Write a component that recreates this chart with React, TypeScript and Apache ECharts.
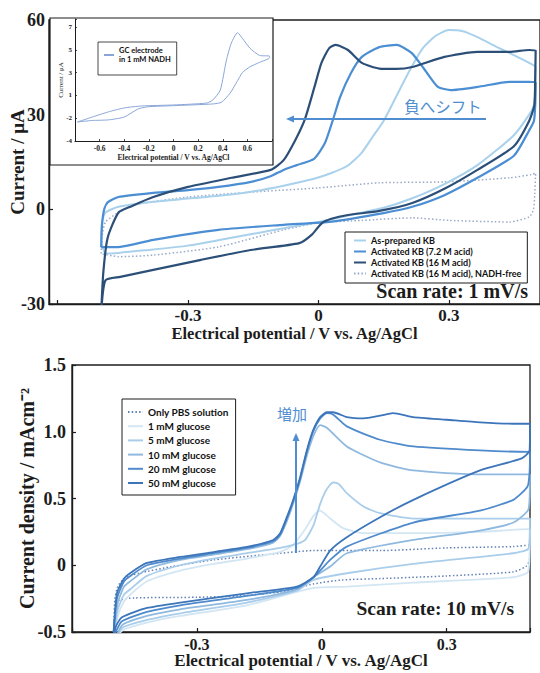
import React, { useEffect, useRef } from 'react';
import * as echarts from 'echarts';

// ---------- Top panel: scan rate 1 mV/s ----------
const TOP_X_TICKS = [-0.3, 0, 0.3];
const TOP_X_LABELS = ['-0.3', '0', '0.3'];
const TOP_Y_TICKS = [-30, 0, 30, 60];
const TOP_Y_LABELS = ['-30', '0', '30', '60'];

const TOP_NAMES = [
  'As-prepared KB',
  'Activated KB (7.2 M acid)',
  'Activated KB (16 M acid)',
  'Activated KB (16 M acid), NADH-free',
];

// [potential (V), current (µA)] – one closed CV loop each
const AS_PREPARED_KB = [
  [-0.5, -10], [-0.498, -4], [-0.49, -1], [-0.46, 0.8], [-0.38, 2.4], [-0.3, 3.4], [-0.23, 4.3],
  [-0.155, 5.6], [-0.08, 7.5], [-0.01, 9.7], [0.03, 11.5], [0.067, 13.8], [0.1, 18], [0.125, 23],
  [0.15, 28], [0.18, 36], [0.21, 44], [0.24, 51], [0.27, 55], [0.3, 56.8], [0.33, 56.5],
  [0.366, 54.6], [0.41, 51.5], [0.44, 49.5], [0.485, 46.4], [0.5, 45],
  [0.499, 38], [0.496, 33], [0.485, 30], [0.45, 23.5], [0.366, 14], [0.29, 8], [0.216, 3.5],
  [0.15, 0.5], [0.05, -2.5], [0, -4], [-0.1, -6.5], [-0.2, -9], [-0.3, -11.5], [-0.4, -13],
  [-0.46, -13.8], [-0.49, -14], [-0.5, -10],
];
const ACTIVATED_7M = [
  [-0.5, -12], [-0.498, -5], [-0.493, 0], [-0.485, 2.2], [-0.46, 3.9], [-0.38, 5.2], [-0.3, 6.1],
  [-0.23, 7.1], [-0.155, 8.7], [-0.11, 10.5], [-0.08, 12.5], [-0.05, 14], [-0.01, 16], [0.015, 21],
  [0.034, 28.6], [0.05, 35.6], [0.075, 43.2], [0.1, 48.3], [0.14, 51.4], [0.18, 52.1], [0.215, 49.5],
  [0.25, 43.2], [0.275, 38.8], [0.305, 37.8], [0.366, 38.8], [0.44, 40.4], [0.485, 40.4], [0.5, 40],
  [0.499, 33], [0.496, 28], [0.485, 25], [0.45, 17], [0.366, 10], [0.29, 4.5], [0.216, 0.8],
  [0.15, -1.2], [0.03, -3.9], [-0.08, -4.9], [-0.23, -6.5], [-0.38, -9.7], [-0.456, -11.9],
  [-0.495, -12], [-0.5, -12],
];
const ACTIVATED_16M = [
  [-0.5, -33], [-0.495, -20], [-0.485, -9], [-0.46, -1], [-0.43, 1], [-0.38, 3.9], [-0.3, 7.1],
  [-0.2, 10], [-0.11, 12.5], [-0.08, 15.6], [-0.053, 22], [-0.031, 28.6], [-0.009, 38.8],
  [0.007, 46.4], [0.025, 51.1], [0.04, 52.1], [0.068, 50.5], [0.1, 46.4], [0.14, 44.6], [0.18, 44.5],
  [0.216, 45.1], [0.29, 48.3], [0.366, 49.9], [0.44, 49.9], [0.485, 50.5], [0.5, 50.3],
  [0.499, 42], [0.497, 33], [0.485, 28], [0.45, 20], [0.366, 12.5], [0.29, 6.5], [0.216, 2],
  [0.14, -0.5], [0.068, -1.8], [0.03, -3], [0.007, -4.5], [-0.015, -8], [-0.044, -10.7],
  [-0.156, -12.9], [-0.27, -16], [-0.38, -19.2], [-0.456, -21.4], [-0.49, -22.5], [-0.5, -33],
];
const NADH_FREE = [
  [-0.5, -14], [-0.497, -8], [-0.49, -4], [-0.46, -1], [-0.42, 1.5], [-0.3, 3.9], [-0.15, 5.5],
  [0, 6.8], [0.14, 8.4], [0.29, 8.7], [0.44, 10], [0.49, 11], [0.5, 11.5],
  [0.498, 5], [0.495, 0], [0.485, -2.4], [0.44, -4], [0.3, -3.5], [0.216, -2.7], [0.1, -3.5],
  [0, -4.3], [-0.08, -6.5], [-0.23, -11.9], [-0.38, -14.5], [-0.46, -15], [-0.5, -14],
];

// ---------- Inset: GC electrode in 1 mM NADH ----------
const INSET_X_TICKS = [-0.6, -0.4, -0.2, 0, 0.2, 0.4, 0.6];
const INSET_X_LABELS = ['-0.6', '-0.4', '-0.2', '0', '0.2', '0.4', '0.6'];
const INSET_Y_TICKS = [-3, -1, 1, 3, 5, 7];
const INSET_Y_LABELS = ['-4', '-2', '1', '3', '5', '7'];
const INSET_NAME = 'GC electrode\nin 1 mM NADH';
const GC_NADH = [
  [-0.78, -1.33], [-0.66, -0.9], [-0.53, -0.45], [-0.4, -0.1], [-0.26, 0.07], [0, 0.16], [0.27, 0.33],
  [0.32, 0.6], [0.38, 1.47], [0.43, 4.1], [0.47, 5.6], [0.52, 6.5], [0.56, 6.0], [0.62, 5.15],
  [0.7, 4.5], [0.78, 4.45],
  [0.78, 4.3], [0.7, 3.9], [0.62, 3.5], [0.56, 3.0], [0.51, 2.1], [0.46, 1.2], [0.39, 0.4],
  [0.32, 0.25], [0, 0.1], [-0.21, 0.0], [-0.29, -0.2], [-0.4, -0.9], [-0.53, -1.15], [-0.66, -1.2],
  [-0.78, -1.33],
];

// ---------- Bottom panel: scan rate 10 mV/s ----------
const BOT_X_TICKS = [-0.3, 0, 0.3];
const BOT_X_LABELS = ['-0.3', '0', '0.3'];
const BOT_Y_TICKS = [-0.5, 0, 0.5, 1.0, 1.5];
const BOT_Y_LABELS = ['-0.5', '0', '0.5', '1.0', '1.5'];
const BOT_NAMES = ['Only PBS solution', '1 mM glucose', '5 mM glucose', '10 mM glucose', '20 mM glucose', '50 mM glucose'];

// [potential (V), current density (mA cm^-2)]
const ONLY_PBS = [
  [-0.5, -0.5], [-0.497, -0.25], [-0.49, -0.16], [-0.475, -0.1], [-0.44, -0.06], [-0.36, -0.01],
  [-0.26, 0.04], [-0.1, 0.09], [-0.02, 0.11], [0.14, 0.11], [0.3, 0.13], [0.46, 0.14], [0.497, 0.15],
  [0.5, 0.1], [0.498, 0.03], [0.49, -0.01], [0.46, -0.05], [0.3, -0.08], [0.14, -0.1], [0.05, -0.11],
  [-0.02, -0.14], [-0.1, -0.2], [-0.2, -0.23], [-0.3, -0.24], [-0.45, -0.245], [-0.49, -0.27], [-0.5, -0.5],
];
const GLUCOSE_1 = [
  [-0.5, -0.6], [-0.49, -0.38], [-0.475, -0.27], [-0.46, -0.22], [-0.42, -0.12], [-0.34, -0.04],
  [-0.26, 0.01], [-0.18, 0.05], [-0.1, 0.1], [-0.07, 0.15], [-0.04, 0.27], [-0.02, 0.37], [-0.005, 0.41],
  [0.02, 0.35], [0.05, 0.28], [0.1, 0.24], [0.22, 0.24], [0.38, 0.25], [0.497, 0.27],
  [0.5, 0.27], [0.499, 0.1], [0.495, -0.05], [0.46, -0.09], [0.22, -0.13], [0.06, -0.16], [-0.02, -0.17],
  [-0.18, -0.3], [-0.34, -0.38], [-0.42, -0.43], [-0.48, -0.49], [-0.5, -0.6],
];
const GLUCOSE_5 = [
  [-0.5, -0.55], [-0.49, -0.33], [-0.475, -0.22], [-0.46, -0.18], [-0.42, -0.08], [-0.34, 0.0],
  [-0.26, 0.05], [-0.18, 0.09], [-0.1, 0.13], [-0.06, 0.16], [-0.04, 0.19], [-0.02, 0.3], [-0.005, 0.45],
  [0.01, 0.56], [0.027, 0.62], [0.04, 0.61], [0.06, 0.54], [0.1, 0.44], [0.14, 0.39], [0.22, 0.35],
  [0.38, 0.35], [0.497, 0.35],
  [0.5, 0.35], [0.499, 0.2], [0.495, 0.12], [0.46, 0.09], [0.22, 0.01], [0.06, -0.06], [-0.02, -0.11],
  [-0.06, -0.19], [-0.18, -0.28], [-0.34, -0.36], [-0.42, -0.41], [-0.48, -0.47], [-0.5, -0.6],
];
const GLUCOSE_10 = [
  [-0.5, -0.5], [-0.49, -0.28], [-0.475, -0.16], [-0.46, -0.12], [-0.42, -0.03], [-0.34, 0.04],
  [-0.26, 0.08], [-0.18, 0.12], [-0.117, 0.17], [-0.1, 0.22], [-0.084, 0.33], [-0.069, 0.46],
  [-0.052, 0.63], [-0.036, 0.82], [-0.02, 0.97], [-0.004, 1.05], [0.012, 1.03], [0.06, 0.89],
  [0.14, 0.77], [0.22, 0.71], [0.38, 0.68], [0.497, 0.68],
  [0.5, 0.68], [0.499, 0.5], [0.495, 0.41], [0.46, 0.32], [0.38, 0.26], [0.22, 0.19], [0.06, 0.09],
  [0.02, -0.01], [-0.02, -0.09], [-0.06, -0.18], [-0.18, -0.26], [-0.34, -0.33], [-0.42, -0.38],
  [-0.48, -0.45], [-0.5, -0.6],
];
const GLUCOSE_20 = [
  [-0.5, -0.5], [-0.492, -0.25], [-0.475, -0.12], [-0.46, -0.08], [-0.42, 0.0], [-0.34, 0.05],
  [-0.26, 0.09], [-0.18, 0.13], [-0.117, 0.18], [-0.1, 0.23], [-0.084, 0.35], [-0.069, 0.48],
  [-0.052, 0.65], [-0.036, 0.85], [-0.021, 1.0], [-0.004, 1.1], [0.012, 1.14], [0.027, 1.13],
  [0.06, 1.04], [0.14, 0.94], [0.22, 0.89], [0.38, 0.86], [0.497, 0.85],
  [0.5, 0.85], [0.499, 0.7], [0.494, 0.59], [0.46, 0.49], [0.38, 0.41], [0.22, 0.32], [0.06, 0.14],
  [0.02, 0.04], [-0.02, -0.09], [-0.06, -0.17], [-0.18, -0.23], [-0.34, -0.3], [-0.42, -0.35],
  [-0.48, -0.42], [-0.495, -0.5], [-0.5, -0.55],
];
const GLUCOSE_50 = [
  [-0.5, -0.5], [-0.492, -0.21], [-0.475, -0.1], [-0.46, -0.058], [-0.42, 0.017], [-0.34, 0.062],
  [-0.26, 0.099], [-0.18, 0.137], [-0.117, 0.189], [-0.1, 0.24], [-0.084, 0.36], [-0.069, 0.487],
  [-0.052, 0.66], [-0.036, 0.86], [-0.021, 1.01], [-0.004, 1.11], [0.012, 1.146], [0.027, 1.146],
  [0.06, 1.11], [0.1, 1.1], [0.14, 1.12], [0.171, 1.14], [0.219, 1.11], [0.3, 1.09], [0.38, 1.07],
  [0.46, 1.06], [0.497, 1.06],
  [0.5, 1.06], [0.499, 0.86], [0.48, 0.8], [0.38, 0.71], [0.22, 0.49], [0.14, 0.36], [0.06, 0.21],
  [0.02, 0.11], [-0.004, -0.01], [-0.02, -0.09], [-0.06, -0.16], [-0.18, -0.21], [-0.34, -0.28],
  [-0.42, -0.32], [-0.48, -0.39], [-0.495, -0.46], [-0.5, -0.55],
];

const SERIF = '"Liberation Serif", "Times New Roman", serif';
const SANS = 'Lato, "Open Sans", sans-serif';
const JP = '"Noto Sans CJK JP", sans-serif';
const INK = '#1c1c1c';
const ARROW = '#4f8dd0';

const pick = (ticks: number[], labels: string[]) => (v: number) => {
  const i = ticks.findIndex((t) => Math.abs(t - v) < 1e-6);
  return i >= 0 ? labels[i] : '';
};

const lineSeries = (
  name: string,
  data: number[][],
  color: string,
  width: number,
  axis: number,
  dotted = false,
  z = 3,
) => ({
  type: 'line',
  name,
  data,
  xAxisIndex: axis,
  yAxisIndex: axis,
  symbol: 'none',
  smooth: 0.2,
  z,
  itemStyle: { color },
  lineStyle: { color, width, type: dotted ? [1.5, 2.2] : 'solid' },
  emphasis: { disabled: true },
});

const axisText = (size: number) => ({
  fontFamily: SERIF,
  fontWeight: 'bold',
  fontSize: size,
  color: INK,
});

export default function App() {
  const ref = useRef<HTMLDivElement>(null);

  useEffect(() => {
    if (!ref.current) return;
    const chart = echarts.init(ref.current, undefined, { renderer: 'svg' });

    const axisLine = { show: true, onZero: false, lineStyle: { color: INK, width: 1.4 } };
    const tick = { show: true, inside: true, length: 4, lineStyle: { color: INK, width: 1.2 } };
    const insetLine = { show: true, onZero: false, lineStyle: { color: INK, width: 1 } };
    const insetTick = { show: true, inside: true, length: 2, lineStyle: { color: INK, width: 0.8 } };
    const gridBase = { containLabel: false, outerBoundsMode: 'none' };

    chart.setOption({
      animation: false,
      backgroundColor: '#fff',
      grid: [
        { ...gridBase, left: 49, top: 20, width: 491, height: 284, show: true, borderColor: INK, borderWidth: 1.3 },
        { ...gridBase, left: 75, top: 19, width: 197, height: 122, show: false, z: 11 },
        { ...gridBase, left: 72, top: 365, width: 458, height: 267, show: true, borderColor: INK, borderWidth: 1.3 },
      ],
      xAxis: [
        {
          gridIndex: 0, type: 'value', min: -0.62, max: 0.51, splitNumber: 4,
          axisLine, axisTick: tick, splitLine: { show: false },
          axisLabel: { ...axisText(17), margin: 3, formatter: pick(TOP_X_TICKS, TOP_X_LABELS) },
          name: 'Electrical potential / V vs. Ag/AgCl', nameLocation: 'middle', nameGap: 21,
          nameMoveOverlap: false,
          nameTextStyle: axisText(16.5),
        },
        {
          gridIndex: 1, type: 'value', min: -0.8, max: 0.8, interval: 0.2, z: 12,
          axisLine: insetLine, axisTick: insetTick, splitLine: { show: false },
          axisLabel: { ...axisText(7.5), margin: 3, formatter: pick(INSET_X_TICKS, INSET_X_LABELS) },
          name: 'Electrical potential / V vs. Ag/AgCl', nameLocation: 'middle', nameGap: 12,
          nameMoveOverlap: false,
          nameTextStyle: axisText(7.5),
        },
        {
          gridIndex: 2, type: 'value', min: -0.6, max: 0.5, interval: 0.3,
          axisLine, axisTick: tick, splitLine: { show: false },
          axisLabel: { ...axisText(16), margin: 4, formatter: pick(BOT_X_TICKS, BOT_X_LABELS) },
          name: 'Electrical potential / V vs. Ag/AgCl', nameLocation: 'middle', nameGap: 20,
          nameMoveOverlap: false,
          nameTextStyle: axisText(17),
        },
      ],
      yAxis: [
        {
          gridIndex: 0, type: 'value', min: -30, max: 60, interval: 30,
          axisLine, axisTick: tick, splitLine: { show: false },
          axisLabel: { ...axisText(18), margin: 4, formatter: pick(TOP_Y_TICKS, TOP_Y_LABELS) },
          name: 'Current / μA', nameLocation: 'middle', nameGap: 22,
          nameMoveOverlap: false,
          nameTextStyle: axisText(19),
        },
        {
          gridIndex: 1, type: 'value', min: -3, max: 7.7, interval: 2, z: 12,
          axisLine: insetLine, axisTick: insetTick, splitLine: { show: false },
          axisLabel: { ...axisText(7), margin: 3, formatter: pick(INSET_Y_TICKS, INSET_Y_LABELS) },
          name: 'Current / μA', nameLocation: 'middle', nameGap: 11,
          nameMoveOverlap: false,
          nameTextStyle: { fontFamily: SERIF, fontSize: 7, color: INK },
        },
        {
          gridIndex: 2, type: 'value', min: -0.5, max: 1.5, interval: 0.5,
          axisLine, axisTick: tick, splitLine: { show: false },
          axisLabel: { ...axisText(18), margin: 6, formatter: pick(BOT_Y_TICKS, BOT_Y_LABELS) },
          name: 'Current density / mAcm⁻²', nameLocation: 'middle', nameGap: 35,
          nameMoveOverlap: false,
          nameTextStyle: axisText(20),
        },
      ],
      legend: [
        {
          data: TOP_NAMES, orient: 'vertical', left: 345, top: 232, z: 20,
          padding: [3, 6, 4, 8], itemGap: 0, itemWidth: 12, itemHeight: 11,
          itemStyle: { opacity: 0 },
          backgroundColor: '#fff', borderColor: INK, borderWidth: 1, selectedMode: false,
          textStyle: { fontFamily: SANS, fontWeight: 'bold', fontSize: 9, lineHeight: 11, color: '#111' },
        },
        {
          data: [INSET_NAME], orient: 'vertical', left: 98, top: 42, z: 20,
          padding: [4, 6, 11, 5], itemWidth: 10, itemHeight: 8,
          itemStyle: { opacity: 0 },
          backgroundColor: '#fff', borderColor: INK, borderWidth: 0.8, selectedMode: false,
          textStyle: { fontFamily: SANS, fontWeight: 'bold', fontSize: 7.5, lineHeight: 9, color: '#111' },
        },
        {
          data: BOT_NAMES, orient: 'vertical', left: 122, top: 399, z: 20,
          padding: [6, 7, 5, 5], itemGap: 0.2, itemWidth: 15, itemHeight: 14,
          itemStyle: { opacity: 0 },
          backgroundColor: '#fff', borderColor: INK, borderWidth: 1, selectedMode: false,
          textStyle: { fontFamily: SANS, fontWeight: 'bold', fontSize: 10, lineHeight: 14, color: '#111' },
        },
      ],
      graphic: [
        {
          type: 'rect', z: 10, silent: true,
          shape: { x: 50, y: 18, width: 223, height: 147 },
          style: { fill: '#fff', stroke: INK, lineWidth: 1.2 },
        },
        {
          type: 'line', z: 5, silent: true,
          shape: { x1: 486, y1: 119, x2: 293, y2: 119 },
          style: { stroke: ARROW, lineWidth: 2 },
        },
        {
          type: 'polygon', z: 5, silent: true,
          shape: { points: [[286, 119], [294, 115.5], [294, 122.5]] },
          style: { fill: ARROW },
        },
        {
          type: 'text', z: 5, silent: true, x: 443, y: 106,
          style: { text: '負へシフト', fill: ARROW, fontFamily: JP, fontSize: 15.5, align: 'center', verticalAlign: 'middle' },
        },
        {
          type: 'text', z: 5, silent: true, x: 528, y: 291,
          style: { text: 'Scan rate: 1 mV/s', fill: INK, fontFamily: SERIF, fontWeight: 'bold', fontSize: 20, align: 'right', verticalAlign: 'middle' },
        },
        {
          type: 'line', z: 5, silent: true,
          shape: { x1: 296, y1: 553, x2: 296, y2: 440 },
          style: { stroke: ARROW, lineWidth: 2 },
        },
        {
          type: 'polygon', z: 5, silent: true,
          shape: { points: [[296, 433], [292.5, 441], [299.5, 441]] },
          style: { fill: ARROW },
        },
        {
          type: 'text', z: 5, silent: true, x: 292, y: 413,
          style: { text: '増加', fill: ARROW, fontFamily: JP, fontSize: 15, align: 'center', verticalAlign: 'middle' },
        },
        {
          type: 'text', z: 5, silent: true, x: 514, y: 608,
          style: { text: 'Scan rate: 10 mV/s', fill: INK, fontFamily: SERIF, fontWeight: 'bold', fontSize: 19.5, align: 'right', verticalAlign: 'middle' },
        },
      ],
      series: [
        lineSeries(TOP_NAMES[3], NADH_FREE, '#98aac8', 1.5, 0, true),
        lineSeries(TOP_NAMES[0], AS_PREPARED_KB, '#a9d1ec', 2, 0),
        lineSeries(TOP_NAMES[1], ACTIVATED_7M, '#4b8ed3', 2.2, 0),
        lineSeries(TOP_NAMES[2], ACTIVATED_16M, '#2c4f78', 2.2, 0),
        lineSeries(INSET_NAME, GC_NADH, '#8aa6d8', 1, 1, false, 13),
        lineSeries(BOT_NAMES[0], ONLY_PBS, '#5f7fb5', 1.5, 2, true),
        lineSeries(BOT_NAMES[1], GLUCOSE_1, '#d3e6f4', 1.8, 2),
        lineSeries(BOT_NAMES[2], GLUCOSE_5, '#a9cdea', 1.8, 2),
        lineSeries(BOT_NAMES[3], GLUCOSE_10, '#8fb9de', 1.8, 2),
        lineSeries(BOT_NAMES[4], GLUCOSE_20, '#4f8bcc', 1.8, 2),
        lineSeries(BOT_NAMES[5], GLUCOSE_50, '#3c75b9', 1.8, 2),
      ],
    });

    return () => chart.dispose();
  }, []);

  return (
    <div
      ref={ref}
      style={{ position: 'fixed', left: 0, top: 0, width: 540, height: 673, background: '#fff' }}
    />
  );
}
